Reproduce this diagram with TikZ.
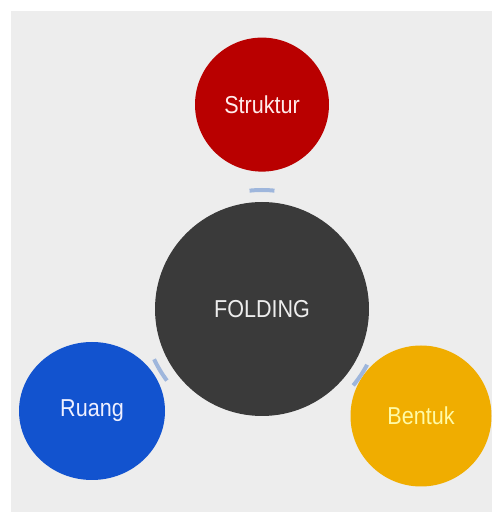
\documentclass[tikz,border=0pt]{standalone}
\usepackage{fontspec}
\newfontfamily\narrowsans[FakeStretch=0.88]{Liberation Sans}
\usepackage{tikz}
\usetikzlibrary{shapes,positioning,calc}

\definecolor{pagegrey}{HTML}{EDEDED}
\definecolor{centregrey}{HTML}{3A3A3A}
\definecolor{struktred}{HTML}{B90000}
\definecolor{ruangblue}{HTML}{1253CF}
\definecolor{bentukgold}{HTML}{F0AD00}
\definecolor{linkblue}{HTML}{9EB6DC}

\begin{document}
\begin{tikzpicture}[
    x=1pt, y=1pt,
    bubble/.style={circle, inner sep=0pt, font=\narrowsans\fontsize{24.5}{28}\selectfont},
    link/.style={linkblue, line width=4pt}
  ]
    % Background
    \useasboundingbox (0,0) rectangle (492,512);
    \fill[pagegrey] (11,0) rectangle (492,501);

    % Nodes
    \node[bubble, fill=centregrey, text=pagegrey, minimum size=214pt] (fold) at (262,203) {FOLDING};
    \node[bubble, fill=struktred, text=red!8, minimum size=134pt, above=30pt of fold] (strk) {Struktur};
    \node[bubble, ellipse, fill=ruangblue, text=blue!6, minimum width=146pt, minimum height=138pt] (ruang) at (92,101) {Ruang};
    \node[bubble, fill=bentukgold, text=yellow!35, minimum size=141pt] (bentuk) at (421,96) {Bentuk};

    % Connectors
    \draw[link] let \p1=($(strk)-(fold)$), \n1={atan2(\y1,\x1)} in
      ($(fold)+(\n1-6:119)$) arc[start angle=\n1-6, end angle=\n1+6, radius=119];
    \draw[link] let \p1=($(ruang)-(fold)$), \n1={atan2(\y1,\x1)} in
      ($(fold)+(\n1-6:119)$) arc[start angle=\n1-6, end angle=\n1+6, radius=119];
    \draw[link] let \p1=($(bentuk)-(fold)$), \n1={atan2(\y1,\x1)} in
      ($(fold)+(\n1-6:119)$) arc[start angle=\n1-6, end angle=\n1+6, radius=119];
\end{tikzpicture}
\end{document}
